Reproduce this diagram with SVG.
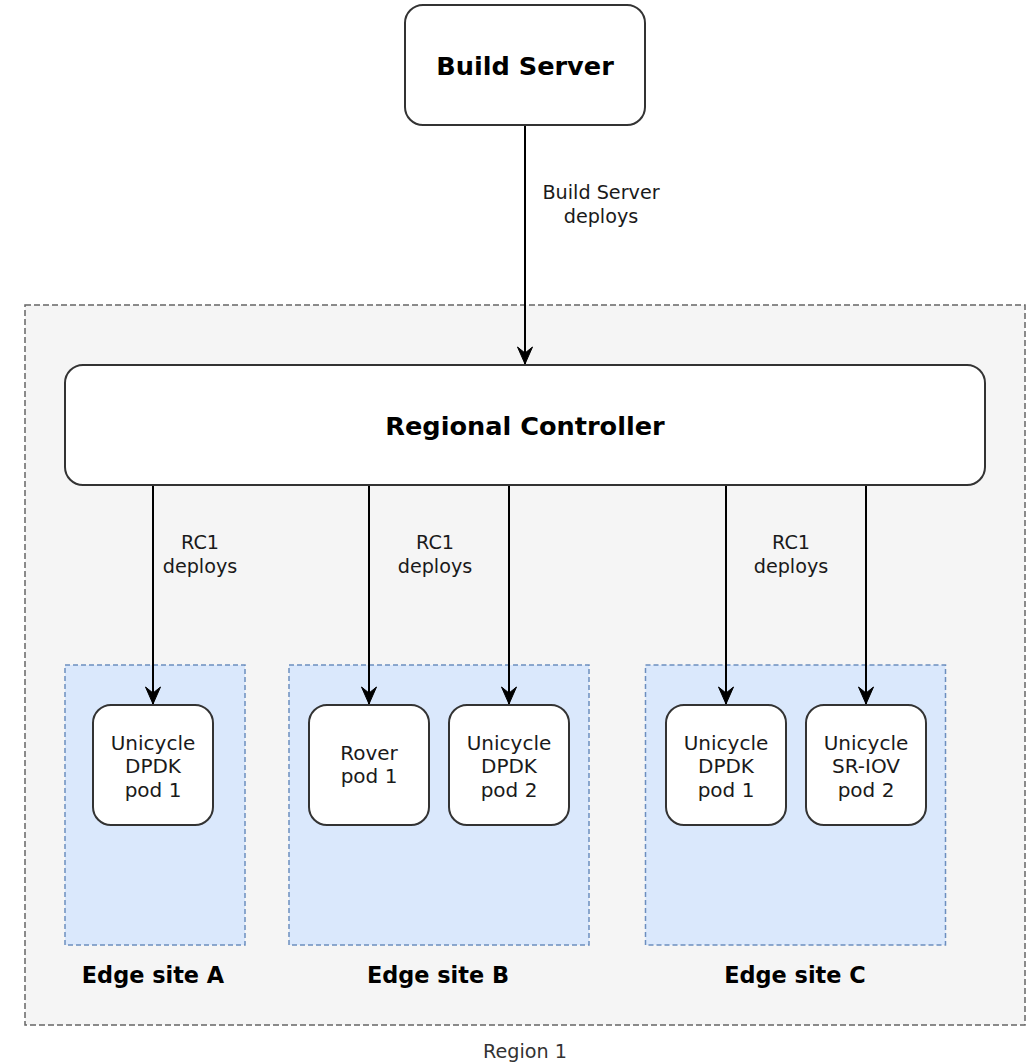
<svg xmlns="http://www.w3.org/2000/svg" width="1033" height="1062" viewBox="0 0 1033 1062">
<defs>
<style>
.box{fill:#ffffff;stroke:#333333;stroke-width:2}
.region{fill:#f5f5f5;stroke:#666666;stroke-width:1.5;stroke-dasharray:6 3}
.site{fill:#dae8fc;stroke:#6c8ebf;stroke-width:1.5;stroke-dasharray:5 3}
.title{font-family:"DejaVu Sans",sans-serif;font-weight:bold;font-size:25.6px;fill:#000;text-anchor:middle}
.sitelbl{font-family:"DejaVu Sans",sans-serif;font-weight:bold;font-size:22.4px;fill:#000;text-anchor:middle}
.txt{font-family:"DejaVu Sans",sans-serif;font-size:20px;fill:#1a1a1a;text-anchor:middle}
.lbl{font-family:"DejaVu Sans",sans-serif;font-size:19.2px;fill:#1a1a1a;text-anchor:middle}
.reg{font-family:"DejaVu Sans",sans-serif;font-size:19.2px;fill:#333333;text-anchor:middle}
.edge{fill:none;stroke:#000;stroke-width:2}
</style>
<marker id="arr" markerUnits="userSpaceOnUse" markerWidth="22" markerHeight="22" viewBox="-20 -11 22 22" refX="0" refY="0" orient="auto" overflow="visible">
<path d="M0,0 L-17,-7.5 L-11,0 L-17,7.5 Z" fill="#000" stroke="#000" stroke-width="1" stroke-linejoin="miter"/>
</marker>
</defs>

<g id="region1">
<rect class="region" x="25" y="305" width="1000" height="720"/>
<text class="reg" x="525" y="1058">Region 1</text>
</g>

<g id="edge-site-a">
<rect class="site" x="65" y="665" width="180" height="280"/>
<text class="sitelbl" x="153" y="983">Edge site A</text>
</g>
<g id="edge-site-b">
<rect class="site" x="289" y="665" width="300" height="280"/>
<text class="sitelbl" x="438" y="983">Edge site B</text>
</g>
<g id="edge-site-c">
<rect class="site" x="645.5" y="665" width="300" height="280"/>
<text class="sitelbl" x="795" y="983">Edge site C</text>
</g>

<g id="build-server">
<rect class="box" x="405" y="5" width="240" height="120" rx="18"/>
<text class="title" x="525" y="75">Build Server</text>
</g>

<g id="regional-controller">
<rect class="box" x="65" y="365" width="920" height="120" rx="18"/>
<text class="title" x="525" y="435">Regional Controller</text>
</g>

<g id="pod-a1">
<rect class="box" x="93" y="705" width="120" height="120" rx="18"/>
<text class="txt" x="153" y="749.5">Unicycle</text>
<text class="txt" x="153" y="773">DPDK</text>
<text class="txt" x="153" y="796.5">pod 1</text>
</g>
<g id="pod-b1">
<rect class="box" x="309" y="705" width="120" height="120" rx="18"/>
<text class="txt" x="369" y="759.5">Rover</text>
<text class="txt" x="369" y="783">pod 1</text>
</g>
<g id="pod-b2">
<rect class="box" x="449" y="705" width="120" height="120" rx="18"/>
<text class="txt" x="509" y="749.5">Unicycle</text>
<text class="txt" x="509" y="773">DPDK</text>
<text class="txt" x="509" y="796.5">pod 2</text>
</g>
<g id="pod-c1">
<rect class="box" x="666" y="705" width="120" height="120" rx="18"/>
<text class="txt" x="726" y="749.5">Unicycle</text>
<text class="txt" x="726" y="773">DPDK</text>
<text class="txt" x="726" y="796.5">pod 1</text>
</g>
<g id="pod-c2">
<rect class="box" x="806" y="705" width="120" height="120" rx="18"/>
<text class="txt" x="866" y="749.5">Unicycle</text>
<text class="txt" x="866" y="773">SR-IOV</text>
<text class="txt" x="866" y="796.5">pod 2</text>
</g>

<g id="connectors">
<line class="edge" x1="525" y1="126" x2="525" y2="364" marker-end="url(#arr)"/>
<line class="edge" x1="153" y1="486" x2="153" y2="704" marker-end="url(#arr)"/>
<line class="edge" x1="369" y1="486" x2="369" y2="704" marker-end="url(#arr)"/>
<line class="edge" x1="509" y1="486" x2="509" y2="704" marker-end="url(#arr)"/>
<line class="edge" x1="726" y1="486" x2="726" y2="704" marker-end="url(#arr)"/>
<line class="edge" x1="866" y1="486" x2="866" y2="704" marker-end="url(#arr)"/>
<text class="lbl" x="601" y="199">Build Server</text>
<text class="lbl" x="601" y="223">deploys</text>
<text class="lbl" x="200" y="549">RC1</text>
<text class="lbl" x="200" y="573">deploys</text>
<text class="lbl" x="435" y="549">RC1</text>
<text class="lbl" x="435" y="573">deploys</text>
<text class="lbl" x="791" y="549">RC1</text>
<text class="lbl" x="791" y="573">deploys</text>
</g>
</svg>
